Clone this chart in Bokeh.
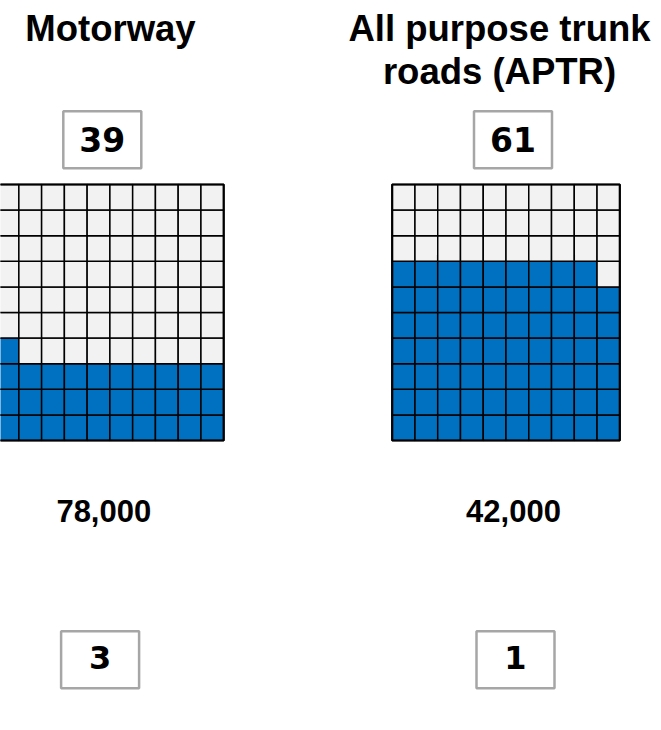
from bokeh.plotting import figure
from bokeh.models import Range1d, ColumnDataSource
from bokeh.core.properties import value
from bokeh.embed import file_html
from bokeh.resources import INLINE

# ---- data ----
categories = ["Motorway", "All purpose trunk roads (APTR)"]
title_lines = [["Motorway"], ["All purpose trunk", "roads (APTR)"]]
share_pct = [39, 61]          # boxed numbers above the waffles
waffle_filled = [31, 69]      # blue cells out of 100 in each waffle
volume = [78000, 42000]       # middle figures
rank = [3, 1]                 # boxed numbers at the bottom

# ---- layout (pixels, y measured from top) ----
W, H = 661, 730
BASE_SHIFT = 0.4              # correction of the alphabetic baseline (em)
title_cx = [110, 499]
title_base = [42.5, 85.5]
top_cx = [101.8, 512.5]
mid_cx = [103.3, 513]
bot_cx = [99.6, 515]
waffle_x0 = [-4.4, 391.7]
waffle_top = 184
cell_w, cell_h = 22.76, 25.6
box_w, box_h = 78, 57
top_box_cy, bottom_box_cy = 139.3, 659.2
FONT = value("Liberation Sans")
BOX_FONT = value("DejaVu Sans")
BLUE, GREY = "#0070C0", "#F2F2F2"


def base(y, size, shift=BASE_SHIFT):
    return y - shift * size


p = figure(width=W, height=H, x_range=Range1d(0, W), y_range=Range1d(H, 0),
           output_backend="svg", toolbar_location=None,
           x_axis_location=None, y_axis_location=None, min_border=0)
p.grid.visible = False
p.outline_line_color = None
p.background_fill_color = "white"
p.border_fill_color = "white"

# titles
ts = 36.5
tx, ty, tt = [], [], []
for i, lines in enumerate(title_lines):
    for j, ln in enumerate(lines):
        tx.append(title_cx[i]); ty.append(base(title_base[j], ts)); tt.append(ln)
p.text(x=tx, y=ty, text=tt, text_font=FONT, text_font_style="bold",
       text_font_size=f"{ts}px", text_align="center", text_baseline="alphabetic",
       text_color="black")

# boxes
for cxs, cy, labels, size, bl in [
        (top_cx, top_box_cy, [str(v) for v in share_pct], 33, 151.7),
        (bot_cx, bottom_box_cy, [str(v) for v in rank], 32, 670)]:
    p.rect(x=cxs, y=[cy] * len(cxs), width=box_w, height=box_h,
           fill_color="white", line_color="#A6A6A6", line_width=2.5)
    p.text(x=cxs, y=[base(bl, size)] * len(cxs), text=labels,
           text_font=BOX_FONT, text_font_style="bold", text_font_size=f"{size}px",
           text_align="center", text_baseline="alphabetic", text_color="black")

# waffles
cx, cyy, col = [], [], []
for i, n in enumerate(waffle_filled):
    for k in range(100):
        r, c = k // 10, k % 10
        cx.append(waffle_x0[i] + (c + 0.5) * cell_w)
        cyy.append(waffle_top + (9 - r + 0.5) * cell_h)
        col.append(BLUE if k < n else GREY)
src = ColumnDataSource(dict(x=cx, y=cyy, c=col))
p.rect(x="x", y="y", width=cell_w, height=cell_h, fill_color="c",
       line_color="black", line_width=1.5, source=src)
for i in range(len(waffle_filled)):
    p.rect(x=[waffle_x0[i] + 5 * cell_w], y=[waffle_top + 5 * cell_h],
           width=10 * cell_w, height=10 * cell_h, fill_color=None,
           line_color="black", line_width=2.2)

# middle figures
ms = 31
p.text(x=mid_cx, y=[base(523.3, ms)] * len(mid_cx), text=[f"{v:,}" for v in volume],
       text_font=FONT, text_font_style="bold", text_font_size=f"{ms}px",
       text_align="center", text_baseline="alphabetic", text_color="black")

open("out.html", "w").write(file_html(p, INLINE))
